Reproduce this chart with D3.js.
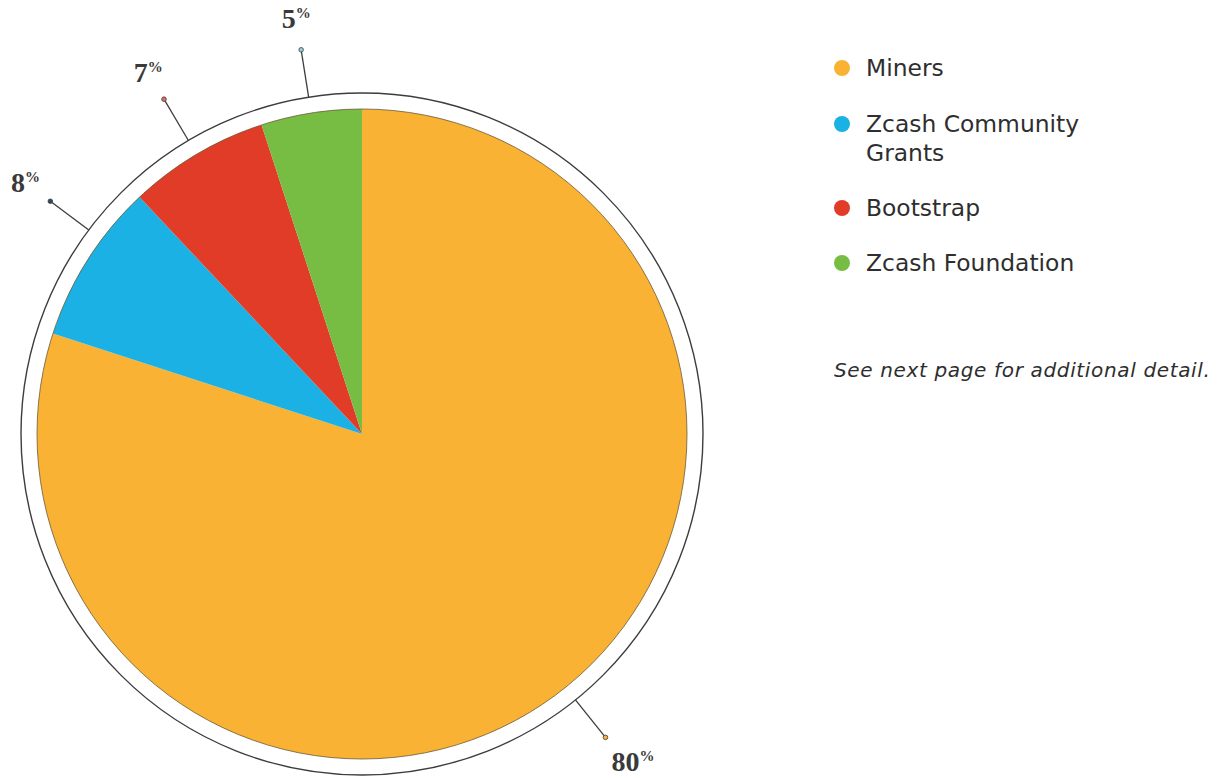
<!DOCTYPE html>
<html>
<head>
<meta charset="utf-8">
<script src="https://cdn.jsdelivr.net/npm/d3@7"></script>
<style>
  body { margin: 0; background: #fff; }
  svg { display: block; }
</style>
</head>
<body>
<svg id="chart" width="1217" height="778"></svg>
<script>
var categories = ['Miners', 'Zcash Community Grants', 'Bootstrap', 'Zcash Foundation'];
var shares = [80, 8, 7, 5];
var sliceColors = ['#f9b233', '#1bb1e4', '#e03c27', '#77bd43'];
var dotColors = ['#f9b233', '#2f4a5a', '#e0705e', '#8fd0dc'];
var legendLines = [['Miners'], ['Zcash Community', 'Grants'], ['Bootstrap'], ['Zcash Foundation']];
var note = 'See next page for additional detail.';

var width = 1217, height = 778;
var svg = d3.select('#chart');
var cx = 362, cy = 434;
var rPie = 325, rRing = 341, rDot = 389, rLabel = 420;

var data = categories.map(function(c, i) {
    return { name: c, value: shares[i], color: sliceColors[i], dot: dotColors[i] };
});

var pie = d3.pie().value(function(d) { return d.value; }).sort(null);
var arcs = pie(data);
var arc = d3.arc().innerRadius(0).outerRadius(rPie);

var g = svg.append('g').attr('transform', 'translate(' + cx + ',' + cy + ')');

g.append('circle')
    .attr('r', rRing)
    .attr('fill', 'none')
    .attr('stroke', '#3d3d3d')
    .attr('stroke-width', 1.4);

g.selectAll('path.slice')
    .data(arcs)
    .enter().append('path')
    .attr('class', 'slice')
    .attr('d', arc)
    .attr('fill', function(d) { return d.data.color; });

g.append('circle')
    .attr('r', rPie)
    .attr('fill', 'none')
    .attr('stroke', '#6b5a3a')
    .attr('stroke-width', 0.8);

function polar(a, r) {
    return [Math.sin(a) * r, -Math.cos(a) * r];
}

// start at the slice middle, then turn the callout until its label stays on the page
function calloutAngle(d) {
    var a = (d.startAngle + d.endAngle) / 2;
    for (var k = 0; k < 400; k++) {
        var p = polar(a, rLabel);
        var x = cx + p[0], y = cy + p[1];
        var outX = x < 25 || x > width - 25;
        var outY = y < 18 || y > height - 16;
        if (!outX && !outY) break;
        // x trouble: turn toward vertical, y trouble: turn toward horizontal
        var towardVertical = Math.sin(a) * Math.cos(a) > 0 ? -1 : 1;
        a += (outX ? towardVertical : -towardVertical) * 0.002;
    }
    return a;
}
arcs.forEach(function(d) { d.callout = calloutAngle(d); });

var labels = g.selectAll('g.lbl')
    .data(arcs)
    .enter().append('g')
    .attr('class', 'lbl');

labels.append('line')
    .attr('x1', function(d) { return polar(d.callout, rRing)[0]; })
    .attr('y1', function(d) { return polar(d.callout, rRing)[1]; })
    .attr('x2', function(d) { return polar(d.callout, rDot)[0]; })
    .attr('y2', function(d) { return polar(d.callout, rDot)[1]; })
    .attr('stroke', '#3d3d3d')
    .attr('stroke-width', 1.3);

labels.append('circle')
    .attr('cx', function(d) { return polar(d.callout, rDot)[0]; })
    .attr('cy', function(d) { return polar(d.callout, rDot)[1]; })
    .attr('r', 2.3)
    .attr('fill', function(d) { return d.data.dot; })
    .attr('stroke', '#3d3d3d')
    .attr('stroke-width', 0.8);

var txt = labels.append('text')
    .attr('x', function(d) { return polar(d.callout, rLabel)[0] + (d.callout < Math.PI ? 8 : 0); })
    .attr('y', function(d) { return polar(d.callout, rLabel)[1] + 9; })
    .attr('text-anchor', 'middle')
    .attr('font-family', '"Liberation Serif", "DejaVu Serif", serif')
    .attr('font-weight', 'bold')
    .attr('fill', '#3a3a3a');
txt.append('tspan')
    .attr('font-size', 28)
    .text(function(d) { return d.data.value; });
txt.append('tspan')
    .attr('font-size', 15)
    .attr('dy', -10)
    .text('%');

// legend
var legend = svg.append('g').attr('transform', 'translate(842,0)');
var legendY = [68, 124, 208, 263];

var items = legend.selectAll('g.item')
    .data(data)
    .enter().append('g')
    .attr('class', 'item')
    .attr('transform', function(d, i) { return 'translate(0,' + legendY[i] + ')'; });

items.append('circle')
    .attr('r', 8)
    .attr('fill', function(d) { return d.color; });

items.append('text')
    .attr('x', 24)
    .attr('y', 8)
    .attr('font-family', '"DejaVu Sans", sans-serif')
    .attr('font-size', 23.4)
    .attr('fill', '#2e2e2e')
    .selectAll('tspan')
    .data(function(d, i) { return legendLines[i]; })
    .enter().append('tspan')
    .attr('x', 24)
    .attr('dy', function(d, i) { return i === 0 ? 0 : 29; })
    .text(function(d) { return d; });

svg.append('text')
    .attr('x', 834)
    .attr('y', 377)
    .attr('font-family', '"DejaVu Sans", sans-serif')
    .attr('font-style', 'italic')
    .attr('font-size', 20)
    .attr('letter-spacing', 0.65)
    .attr('fill', '#2e2e2e')
    .text(note);
</script>
</body>
</html>
